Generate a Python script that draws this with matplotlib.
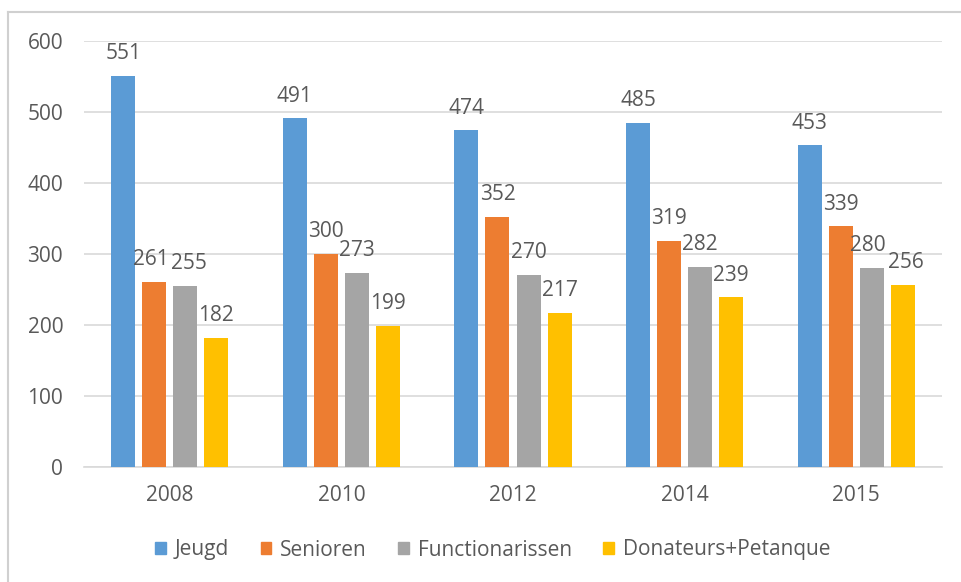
import matplotlib
matplotlib.use("Agg")
import matplotlib.pyplot as plt
from matplotlib.lines import Line2D
import numpy as np

years = ["2008", "2010", "2012", "2014", "2015"]
series_names = ["Jeugd", "Senioren", "Functionarissen", "Donateurs+Petanque"]
jeugd = [551, 491, 474, 485, 453]
senioren = [261, 300, 352, 319, 339]
functionarissen = [255, 273, 270, 282, 280]
donateurs = [182, 199, 217, 239, 256]
colors = ["#5B9BD5", "#ED7D31", "#A5A5A5", "#FFC000"]

plt.rcParams['font.family'] = ['Open Sans', 'DejaVu Sans']

fig = plt.figure(figsize=(9.62, 5.82), dpi=100)
ax = fig.add_axes([84/962, 1-467/582, (942-84)/962, (467-41)/582])

data = [jeugd, senioren, functionarissen, donateurs]
n = len(data)
x = np.arange(len(years))
width = 0.14
step = 0.181
for i, (vals, c, name) in enumerate(zip(data, colors, series_names)):
    pos = x + (i - 1.5) * step
    ax.bar(pos, vals, width=width, color=c, label=name, zorder=3)
    for j, (p, v) in enumerate(zip(pos, vals)):
        # nudge apart labels whose neighbours sit at almost the same height
        dx = 0.0
        if i > 0 and abs(data[i - 1][j] - v) < 25:
            dx += 2.5
        if i < n - 1 and abs(data[i + 1][j] - v) < 25:
            dx -= 2.5
        ax.annotate(str(v), (p, v), xytext=(dx, 8.5), textcoords="offset points",
                    ha="center", va="bottom", fontsize=15, color="#595959")

ax.set_xlim(-0.5, len(years) - 0.5)
ax.set_ylim(0, 600)
ax.set_yticks(range(0, 601, 100))
ax.set_xticks(x)
ax.set_xticklabels(years)
ax.tick_params(axis="both", length=0, labelsize=15, colors="#595959")
ax.tick_params(axis="y", pad=15)
ax.tick_params(axis="x", pad=13)
ax.grid(axis="y", color="#D9D9D9", linewidth=1.2, zorder=0)
for s in ["top", "right", "left"]:
    ax.spines[s].set_visible(False)
ax.spines["bottom"].set_color("#D9D9D9")
ax.spines["bottom"].set_linewidth(1.2)

handles = [plt.Rectangle((0, 0), 1, 1, color=c) for c in colors]
fig.legend(handles, series_names, loc="center", bbox_to_anchor=(493/962, 1-550/582),
           ncol=4, frameon=False, fontsize=15, labelcolor="#595959",
           handlelength=0.5, handleheight=0.5, handletextpad=0.45, columnspacing=1.5)

# chart border
fig.add_artist(Line2D([8/962, 8/962], [-0.01, 1-12/582], color="#D0D0D0", linewidth=1.5, transform=fig.transFigure))
fig.add_artist(Line2D([8/962, 1.0], [1-12/582, 1-12/582], color="#D0D0D0", linewidth=1.5, transform=fig.transFigure))

fig.savefig("out.png", dpi=100)
